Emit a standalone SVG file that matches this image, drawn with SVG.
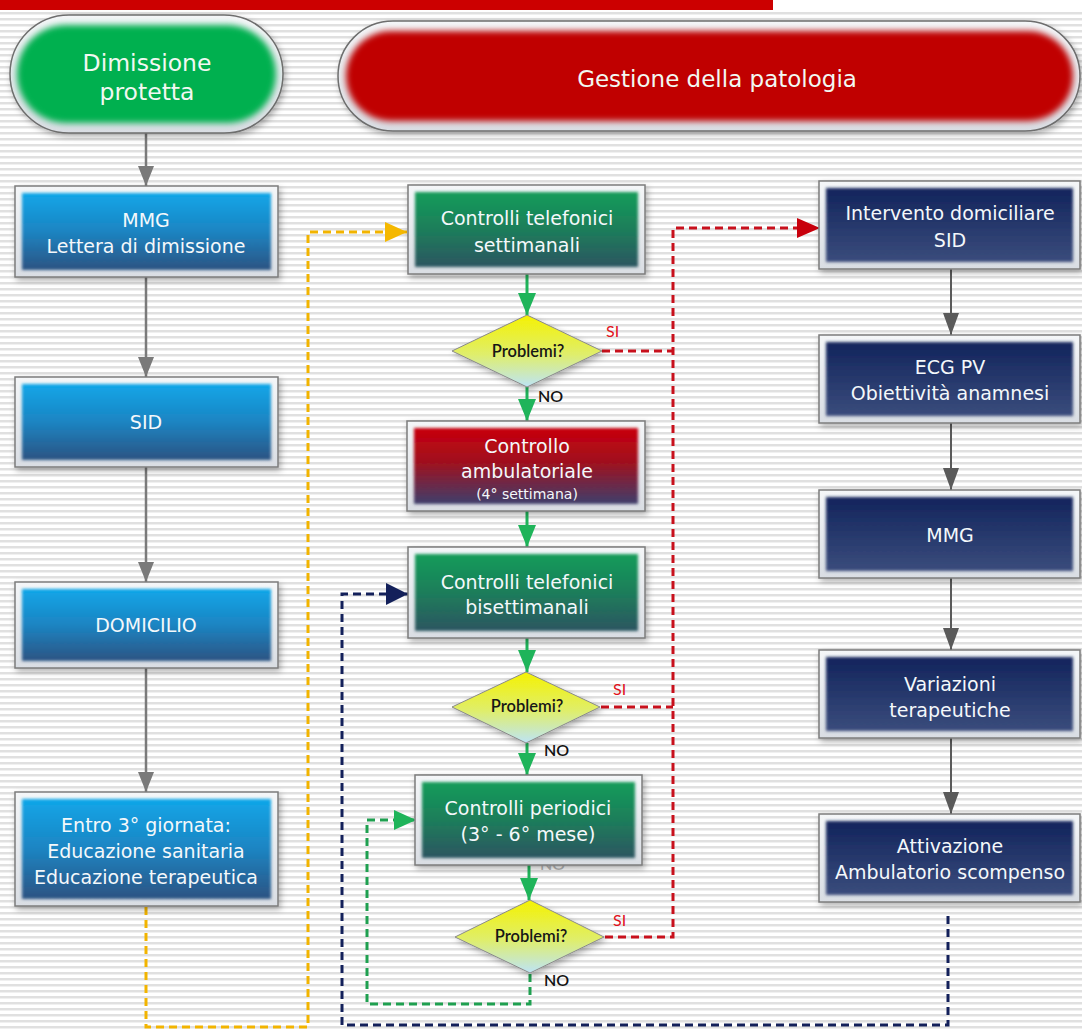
<svg xmlns="http://www.w3.org/2000/svg" width="1082" height="1031" viewBox="0 0 1082 1031">
<style>
.frame{fill:url(#gFrame);stroke:#7c7c7c;stroke-width:1.5;filter:url(#shadow)}
.t{font-family:"DejaVu Sans",Verdana,sans-serif;font-size:19px;fill:#f4f8fb;text-anchor:middle}
.title{font-family:"DejaVu Sans",Verdana,sans-serif;font-size:23.5px;fill:#f2f8f2;text-anchor:middle}
.q{font-family:Lato,"Liberation Sans",sans-serif;font-size:16.5px;font-weight:600;fill:#161616;text-anchor:middle}
.si{font-family:Lato,"Liberation Sans",sans-serif;font-size:16px;fill:#e0101a}
.no{font-family:Lato,"Liberation Sans",sans-serif;font-size:16px;font-weight:600;fill:#111}
.gray{fill:none;stroke:#7a7a7a;stroke-width:2.5}
.gray2{fill:none;stroke:#5a5a5a;stroke-width:2}
.green{fill:none;stroke:#1fb45a;stroke-width:3}
.dash{fill:none;stroke-width:3;stroke-dasharray:8 5}
</style>
<defs>
<pattern id="stripes" width="12" height="6" patternUnits="userSpaceOnUse">
<rect width="12" height="6" fill="#ffffff"/>
<rect y="0" width="12" height="2" fill="#e0e0e0"/>
<rect y="2" width="12" height="1" fill="#f0f0f0"/>
</pattern>
<linearGradient id="gFrame" x1="0" y1="0" x2="0" y2="1"><stop offset="0" stop-color="#f4f6f8"/><stop offset="1" stop-color="#d9dde3"/></linearGradient>
<linearGradient id="gBlue" x1="0" y1="0" x2="0" y2="1"><stop offset="0" stop-color="#10a6e8"/><stop offset="0.5" stop-color="#1c84c2"/><stop offset="1" stop-color="#2c5382"/></linearGradient>
<linearGradient id="gGreen" x1="0" y1="0" x2="0" y2="1"><stop offset="0" stop-color="#129c5a"/><stop offset="0.5" stop-color="#1d7d5a"/><stop offset="1" stop-color="#2c5560"/></linearGradient>
<linearGradient id="gRed" x1="0" y1="0" x2="0" y2="1"><stop offset="0" stop-color="#c8000c"/><stop offset="0.45" stop-color="#a0101e"/><stop offset="1" stop-color="#3e3f6c"/></linearGradient>
<linearGradient id="gNavy" x1="0" y1="0" x2="0" y2="1"><stop offset="0" stop-color="#12245c"/><stop offset="1" stop-color="#3a4c7c"/></linearGradient>
<linearGradient id="gDia" x1="0" y1="0" x2="0" y2="1"><stop offset="0" stop-color="#f5f200"/><stop offset="0.55" stop-color="#dfee6c"/><stop offset="1" stop-color="#bde4f6"/></linearGradient>
<filter id="shadow" x="-10%" y="-10%" width="125%" height="135%"><feDropShadow dx="2" dy="3" stdDeviation="3" flood-color="#000" flood-opacity="0.3"/></filter>
<filter id="soft" x="-5%" y="-10%" width="110%" height="120%"><feGaussianBlur stdDeviation="1.6"/></filter>
<filter id="softPill" x="-5%" y="-10%" width="110%" height="120%"><feGaussianBlur stdDeviation="3"/></filter>
<marker id="aGray" viewBox="0 0 20 16" refX="20" refY="8" markerWidth="20" markerHeight="16" markerUnits="userSpaceOnUse" orient="auto"><path d="M0,0 L20,8 L0,16 z" fill="#7a7a7a"/></marker>
<marker id="aGray2" viewBox="0 0 22 16" refX="22" refY="8" markerWidth="22" markerHeight="16" markerUnits="userSpaceOnUse" orient="auto"><path d="M0,0 L22,8 L0,16 z" fill="#5a5a5a"/></marker>
<marker id="aGreen" viewBox="0 0 22 18" refX="22" refY="9" markerWidth="22" markerHeight="18" markerUnits="userSpaceOnUse" orient="auto"><path d="M0,0 L22,9 L0,18 z" fill="#1fb45a"/></marker>
<marker id="aYellow" viewBox="0 0 22 20" refX="22" refY="10" markerWidth="22" markerHeight="20" markerUnits="userSpaceOnUse" orient="auto"><path d="M0,0 L22,10 L0,20 z" fill="#f5b800"/></marker>
<marker id="aNavy" viewBox="0 0 22 22" refX="22" refY="11" markerWidth="22" markerHeight="22" markerUnits="userSpaceOnUse" orient="auto"><path d="M0,0 L22,11 L0,22 z" fill="#13205a"/></marker>
<marker id="aRed" viewBox="0 0 23 20" refX="23" refY="10" markerWidth="23" markerHeight="20" markerUnits="userSpaceOnUse" orient="auto"><path d="M0,0 L23,10 L0,20 z" fill="#c8000c"/></marker>
<marker id="aGreenD" viewBox="0 0 22 20" refX="22" refY="10" markerWidth="22" markerHeight="20" markerUnits="userSpaceOnUse" orient="auto"><path d="M0,0 L22,10 L0,20 z" fill="#1fb45a"/></marker>
</defs>

<rect width="1082" height="1031" fill="url(#stripes)"/>
<rect x="0" y="0" width="773" height="10" fill="#cc0000"/>
<rect x="773" y="0" width="309" height="12" fill="#ffffff"/>

<!-- faint label partly hidden behind box -->
<text class="no" x="540" y="870" style="fill:#b8b8b8">NO</text>

<g id="connectors">
<path class="gray" d="M146,133 V186" marker-end="url(#aGray)"/>
<path class="gray" d="M146,277 V377" marker-end="url(#aGray)"/>
<path class="gray" d="M146,467 V582" marker-end="url(#aGray)"/>
<path class="gray" d="M146,668 V792" marker-end="url(#aGray)"/>
<path class="gray2" d="M951,269 V335" marker-end="url(#aGray2)"/>
<path class="gray2" d="M951,423 V490" marker-end="url(#aGray2)"/>
<path class="gray2" d="M951,578 V650" marker-end="url(#aGray2)"/>
<path class="gray2" d="M951,738 V814" marker-end="url(#aGray2)"/>
<path class="green" d="M527,274 V315" marker-end="url(#aGreen)"/>
<path class="green" d="M527,387 V421" marker-end="url(#aGreen)"/>
<path class="green" d="M527,511 V547" marker-end="url(#aGreen)"/>
<path class="green" d="M527,638 V672" marker-end="url(#aGreen)"/>
<path class="green" d="M527,743 V775" marker-end="url(#aGreen)"/>
<path class="green" d="M529,865 V900" marker-end="url(#aGreen)"/>
<path class="dash" stroke="#f2b400" d="M146,907 V1027 H308 V232 H407" marker-end="url(#aYellow)"/>
<path class="dash" stroke="#13205a" d="M948,916 V1025 H342 V594 H408" marker-end="url(#aNavy)"/>
<path class="dash" stroke="#1fa050" d="M530,974 V1004 H367 V820 H416" marker-end="url(#aGreenD)"/>
<path class="dash" stroke="#c8101c" d="M605,937 H673 V228 H820" marker-end="url(#aRed)"/>
<path class="dash" stroke="#c8101c" d="M602,351 H673"/>
<path class="dash" stroke="#c8101c" d="M601,707 H673"/>
</g>

<g id="dimissione-protetta">
<rect x="10" y="15" width="273" height="118" rx="59" fill="url(#gFrame)" stroke="#6e6e6e" stroke-width="1.5" filter="url(#shadow)"/>
<rect x="17" y="25" width="259" height="98" rx="49" fill="#00b050" filter="url(#softPill)"/>
<text class="title" x="147" y="71">Dimissione</text>
<text class="title" x="147" y="100">protetta</text>
</g>

<g id="gestione-patologia">
<rect x="338" y="21" width="742" height="110" rx="55" fill="url(#gFrame)" stroke="#6e6e6e" stroke-width="1.5" filter="url(#shadow)"/>
<rect x="346" y="31" width="727" height="90" rx="45" fill="#c00000" filter="url(#softPill)"/>
<text class="title" x="717" y="87" style="font-size:23px">Gestione della patologia</text>
</g>

<g id="mmg-lettera">
<rect class="frame" x="15" y="186" width="263" height="91"/>
<rect x="22" y="193" width="249" height="77" fill="url(#gBlue)" filter="url(#soft)"/>
<text class="t" x="146" y="227">MMG</text>
<text class="t" x="146" y="253">Lettera di dimissione</text>
</g>
<g id="sid">
<rect class="frame" x="15" y="377" width="263" height="90"/>
<rect x="22" y="384" width="249" height="76" fill="url(#gBlue)" filter="url(#soft)"/>
<text class="t" x="146" y="429">SID</text>
</g>
<g id="domicilio">
<rect class="frame" x="15" y="582" width="263" height="86"/>
<rect x="22" y="589" width="249" height="72" fill="url(#gBlue)" filter="url(#soft)"/>
<text class="t" x="146" y="632">DOMICILIO</text>
</g>
<g id="entro-3-giornata">
<rect class="frame" x="15" y="792" width="263" height="114"/>
<rect x="22" y="799" width="249" height="100" fill="url(#gBlue)" filter="url(#soft)"/>
<text class="t" x="146" y="832">Entro 3° giornata:</text>
<text class="t" x="146" y="858">Educazione sanitaria</text>
<text class="t" x="146" y="884">Educazione terapeutica</text>
</g>

<g id="controlli-settimanali">
<rect class="frame" x="408" y="185" width="237" height="89"/>
<rect x="415" y="192" width="223" height="75" fill="url(#gGreen)" filter="url(#soft)"/>
<text class="t" x="527" y="225">Controlli telefonici</text>
<text class="t" x="527" y="252">settimanali</text>
</g>
<g id="problemi-1">
<polygon points="527,315 602,351 527,387 452,351" fill="url(#gDia)" stroke="#8a8a8a" stroke-width="1" filter="url(#shadow)"/>
<text class="q" x="528" y="357">Problemi?</text>
<text class="si" x="606" y="337">SI</text>
<text class="no" x="538" y="402">NO</text>
</g>
<g id="controllo-ambulatoriale">
<rect class="frame" x="407" y="421" width="238" height="90"/>
<rect x="414" y="428" width="224" height="76" fill="url(#gRed)" filter="url(#soft)"/>
<text class="t" x="527" y="453">Controllo</text>
<text class="t" x="527" y="478">ambulatoriale</text>
<text class="t" x="527" y="499" style="font-size:14px">(4° settimana)</text>
</g>
<g id="controlli-bisettimanali">
<rect class="frame" x="408" y="547" width="237" height="91"/>
<rect x="415" y="554" width="223" height="77" fill="url(#gGreen)" filter="url(#soft)"/>
<text class="t" x="527" y="589">Controlli telefonici</text>
<text class="t" x="527" y="614">bisettimanali</text>
</g>
<g id="problemi-2">
<polygon points="526,672 600,707 526,743 452,707" fill="url(#gDia)" stroke="#8a8a8a" stroke-width="1" filter="url(#shadow)"/>
<text class="q" x="527" y="712">Problemi?</text>
<text class="si" x="613" y="695">SI</text>
<text class="no" x="544" y="756">NO</text>
</g>
<g id="controlli-periodici">
<rect class="frame" x="415" y="775" width="227" height="90"/>
<rect x="422" y="782" width="213" height="76" fill="url(#gGreen)" filter="url(#soft)"/>
<text class="t" x="528" y="815">Controlli periodici</text>
<text class="t" x="528" y="841">(3° - 6° mese)</text>
</g>
<g id="problemi-3">
<polygon points="530,900 604,937 530,973 455,937" fill="url(#gDia)" stroke="#8a8a8a" stroke-width="1" filter="url(#shadow)"/>
<text class="q" x="531" y="942">Problemi?</text>
<text class="si" x="613" y="926">SI</text>
<text class="no" x="544" y="986">NO</text>
</g>

<g id="intervento-domiciliare">
<rect class="frame" x="819" y="181" width="261" height="88"/>
<rect x="826" y="188" width="247" height="74" fill="url(#gNavy)" filter="url(#soft)"/>
<text class="t" x="950" y="220">Intervento domiciliare</text>
<text class="t" x="950" y="247">SID</text>
</g>
<g id="ecg-pv">
<rect class="frame" x="819" y="335" width="261" height="88"/>
<rect x="826" y="342" width="247" height="74" fill="url(#gNavy)" filter="url(#soft)"/>
<text class="t" x="950" y="374">ECG PV</text>
<text class="t" x="950" y="400">Obiettività anamnesi</text>
</g>
<g id="mmg-2">
<rect class="frame" x="819" y="490" width="261" height="88"/>
<rect x="826" y="497" width="247" height="74" fill="url(#gNavy)" filter="url(#soft)"/>
<text class="t" x="950" y="542">MMG</text>
</g>
<g id="variazioni-terapeutiche">
<rect class="frame" x="819" y="650" width="261" height="88"/>
<rect x="826" y="657" width="247" height="74" fill="url(#gNavy)" filter="url(#soft)"/>
<text class="t" x="950" y="691">Variazioni</text>
<text class="t" x="950" y="717">terapeutiche</text>
</g>
<g id="attivazione-ambulatorio">
<rect class="frame" x="819" y="814" width="261" height="88"/>
<rect x="826" y="821" width="247" height="74" fill="url(#gNavy)" filter="url(#soft)"/>
<text class="t" x="950" y="853">Attivazione</text>
<text class="t" x="950" y="879">Ambulatorio scompenso</text>
</g>
</svg>
